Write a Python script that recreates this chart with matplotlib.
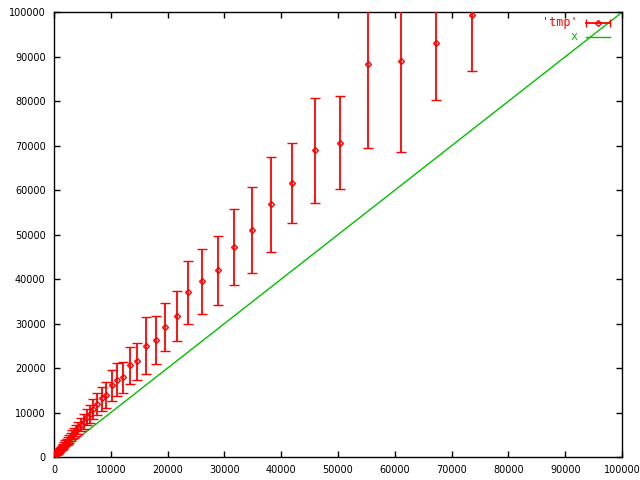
import numpy as np
import matplotlib
matplotlib.use("Agg")
import matplotlib.pyplot as plt
from matplotlib.lines import Line2D

# 'tmp' series: x position, mean, lower and upper end of error bar
x_vals = [73640, 67310, 61140, 55330, 50400, 46000, 41950, 38260, 34860, 31740,
          28820, 26110, 23640, 21600, 19600, 17900, 16250, 14670, 13430, 12200,
          11140, 10160, 9210, 8400, 7640, 6940, 6310, 5740, 5220, 4740,
          4310, 3920, 3560, 3240, 2940, 2680, 2430, 2210, 2010, 1830,
          1660, 1510, 1370, 1250, 1140, 1030, 940, 850, 770, 700,
          640, 580, 530, 480, 440, 400]
y_mean = [99460, 93030, 88980, 88310, 70540, 69040, 61550, 56820, 50980, 47160,
          42050, 39580, 37040, 31710, 29170, 26240, 24890, 21520, 20620, 17920,
          17250, 16120, 13940, 13200, 11850, 10700, 9600, 8900, 7900, 7300,
          6500, 6000, 5400, 5000, 4500, 4100, 3700, 3350, 3100, 2800,
          2500, 2300, 2100, 1900, 1750, 1580, 1420, 1300, 1170, 1060,
          970, 880, 800, 730, 670, 610]
y_low = [86730, 80280, 68520, 69420, 60200, 57050, 52550, 46030, 41310, 38610,
         34110, 32090, 29840, 26020, 23770, 20910, 18660, 17250, 16480, 14320,
         13650, 12660, 10950, 10340, 9400, 8500, 7600, 7100, 6300, 5800,
         5200, 4750, 4300, 4000, 3600, 3250, 2950, 2650, 2450, 2200,
         2000, 1800, 1650, 1500, 1380, 1250, 1120, 1030, 920, 840,
         770, 700, 630, 580, 530, 480]
y_high = [112190, 105780, 109440, 107200, 81110, 80800, 70540, 67390, 60650, 55700,
          49630, 46840, 44010, 37400, 34560, 31640, 31410, 25700, 24670, 21300,
          21070, 19500, 16800, 15810, 14400, 13000, 11600, 10800, 9600, 8800,
          7900, 7300, 6550, 6050, 5450, 4950, 4450, 4050, 3750, 3400,
          3000, 2800, 2550, 2300, 2120, 1910, 1720, 1570, 1420, 1280,
          1170, 1060, 970, 880, 810, 740]

# reference line y = x
line_x = [0, 100000]

red = '#ff0000'
green = '#00c000'

fig = plt.figure(figsize=(6.4, 4.8), dpi=100)
ax = fig.add_axes([54 / 640, 23 / 480, 568 / 640, 444.7 / 480])

x = np.array(x_vals)
m = np.array(y_mean)
err = [m - np.array(y_low), np.array(y_high) - m]

ax.errorbar(x, m, yerr=err, fmt='D', color=red, ms=3, mfc='none', mew=1,
            ecolor=red, elinewidth=1.3, capsize=3.5, capthick=1.3, zorder=3)
ax.plot(line_x, line_x, color=green, lw=1, zorder=2)

ax.set_xlim(0, 100000)
ax.set_ylim(0, 100000)
ax.set_xticks(np.arange(0, 100001, 10000))
ax.set_yticks(np.arange(0, 100001, 10000))
ax.tick_params(direction='in', length=4, width=1, top=True, right=True,
               labelsize=7, pad=6)
for s in ax.spines.values():
    s.set_linewidth(1)

# gnuplot style key, top right
ax.text(0.922, 0.976, "'tmp'", transform=ax.transAxes, color=red,
        ha='right', va='center', fontsize=8.5, family='DejaVu Sans Mono')
ax.add_line(Line2D([0.937, 0.979], [0.976, 0.976], transform=ax.transAxes,
                   color=red, lw=1.3, marker='|', markevery=[0, 1], ms=6))
ax.add_line(Line2D([0.958], [0.976], transform=ax.transAxes, color=red,
                   marker='D', ms=3, mfc='none', mew=1))
ax.text(0.922, 0.945, 'x', transform=ax.transAxes, color=green,
        ha='right', va='center', fontsize=8.5, family='DejaVu Sans Mono')
ax.add_line(Line2D([0.937, 0.979], [0.945, 0.945], transform=ax.transAxes,
                   color=green, lw=1))

plt.savefig('out.png', dpi=100)
